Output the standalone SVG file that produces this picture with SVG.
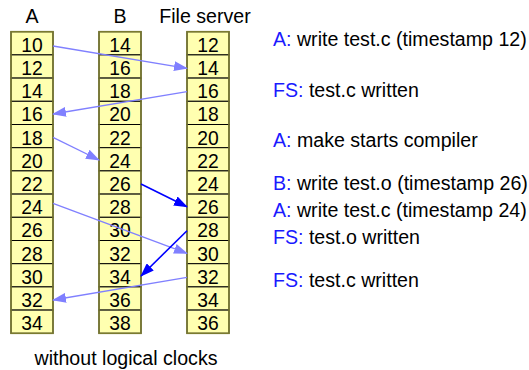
<svg xmlns="http://www.w3.org/2000/svg" width="529" height="370" viewBox="0 0 529 370">
<style>
text{font-family:"Liberation Sans",Arial,sans-serif;font-size:19.6px;fill:#000}
.n{text-anchor:middle;font-size:19.3px}
.h{text-anchor:middle}
.k{fill:#1a1aff}
.cell{fill:#ffffb0;stroke:#000;stroke-width:1}
.col{fill:none;stroke:#7a7a30;stroke-width:1.6}
.lt{stroke:#8080ff;stroke-width:1.3;fill:none}
.dk{stroke:#0000ff;stroke-width:1.6;fill:none}
</style>
<defs>
<marker id="al" markerWidth="14" markerHeight="10" refX="13" refY="5" orient="auto" markerUnits="userSpaceOnUse"><path d="M0,0 L14,5 L0,10 z" fill="#8080ff"/></marker>
<marker id="ad" markerWidth="14" markerHeight="10" refX="13" refY="5" orient="auto" markerUnits="userSpaceOnUse"><path d="M0,0 L14,5 L0,10 z" fill="#0000ff"/></marker>
</defs>
<rect width="529" height="370" fill="#fff"/>
<text class="h" x="32" y="22.7">A</text>
<text class="h" x="120" y="22.7">B</text>
<text class="h" x="205" y="22.7">File server</text>
<g id="colA">
<rect class="cell" x="11" y="31.7" width="42" height="23.2"/><text class="n" x="32" y="51.7">10</text>
<rect class="cell" x="11" y="54.9" width="42" height="23.2"/><text class="n" x="32" y="74.9">12</text>
<rect class="cell" x="11" y="78.1" width="42" height="23.2"/><text class="n" x="32" y="98.1">14</text>
<rect class="cell" x="11" y="101.3" width="42" height="23.2"/><text class="n" x="32" y="121.3">16</text>
<rect class="cell" x="11" y="124.5" width="42" height="23.2"/><text class="n" x="32" y="144.5">18</text>
<rect class="cell" x="11" y="147.7" width="42" height="23.2"/><text class="n" x="32" y="167.7">20</text>
<rect class="cell" x="11" y="170.9" width="42" height="23.2"/><text class="n" x="32" y="190.9">22</text>
<rect class="cell" x="11" y="194.1" width="42" height="23.2"/><text class="n" x="32" y="214.1">24</text>
<rect class="cell" x="11" y="217.3" width="42" height="23.2"/><text class="n" x="32" y="237.3">26</text>
<rect class="cell" x="11" y="240.5" width="42" height="23.2"/><text class="n" x="32" y="260.5">28</text>
<rect class="cell" x="11" y="263.7" width="42" height="23.2"/><text class="n" x="32" y="283.7">30</text>
<rect class="cell" x="11" y="286.9" width="42" height="23.2"/><text class="n" x="32" y="306.9">32</text>
<rect class="cell" x="11" y="310.1" width="42" height="23.2"/><text class="n" x="32" y="330.1">34</text>
<rect class="col" x="11" y="31.7" width="42" height="301.6"/>
</g>
<g id="colB">
<rect class="cell" x="99" y="31.7" width="42" height="23.2"/><text class="n" x="120" y="51.7">14</text>
<rect class="cell" x="99" y="54.9" width="42" height="23.2"/><text class="n" x="120" y="74.9">16</text>
<rect class="cell" x="99" y="78.1" width="42" height="23.2"/><text class="n" x="120" y="98.1">18</text>
<rect class="cell" x="99" y="101.3" width="42" height="23.2"/><text class="n" x="120" y="121.3">20</text>
<rect class="cell" x="99" y="124.5" width="42" height="23.2"/><text class="n" x="120" y="144.5">22</text>
<rect class="cell" x="99" y="147.7" width="42" height="23.2"/><text class="n" x="120" y="167.7">24</text>
<rect class="cell" x="99" y="170.9" width="42" height="23.2"/><text class="n" x="120" y="190.9">26</text>
<rect class="cell" x="99" y="194.1" width="42" height="23.2"/><text class="n" x="120" y="214.1">28</text>
<rect class="cell" x="99" y="217.3" width="42" height="23.2"/><text class="n" x="120" y="237.3">30</text>
<rect class="cell" x="99" y="240.5" width="42" height="23.2"/><text class="n" x="120" y="260.5">32</text>
<rect class="cell" x="99" y="263.7" width="42" height="23.2"/><text class="n" x="120" y="283.7">34</text>
<rect class="cell" x="99" y="286.9" width="42" height="23.2"/><text class="n" x="120" y="306.9">36</text>
<rect class="cell" x="99" y="310.1" width="42" height="23.2"/><text class="n" x="120" y="330.1">38</text>
<rect class="col" x="99" y="31.7" width="42" height="301.6"/>
</g>
<g id="colFS">
<rect class="cell" x="187" y="31.7" width="42" height="23.2"/><text class="n" x="208" y="51.7">12</text>
<rect class="cell" x="187" y="54.9" width="42" height="23.2"/><text class="n" x="208" y="74.9">14</text>
<rect class="cell" x="187" y="78.1" width="42" height="23.2"/><text class="n" x="208" y="98.1">16</text>
<rect class="cell" x="187" y="101.3" width="42" height="23.2"/><text class="n" x="208" y="121.3">18</text>
<rect class="cell" x="187" y="124.5" width="42" height="23.2"/><text class="n" x="208" y="144.5">20</text>
<rect class="cell" x="187" y="147.7" width="42" height="23.2"/><text class="n" x="208" y="167.7">22</text>
<rect class="cell" x="187" y="170.9" width="42" height="23.2"/><text class="n" x="208" y="190.9">24</text>
<rect class="cell" x="187" y="194.1" width="42" height="23.2"/><text class="n" x="208" y="214.1">26</text>
<rect class="cell" x="187" y="217.3" width="42" height="23.2"/><text class="n" x="208" y="237.3">28</text>
<rect class="cell" x="187" y="240.5" width="42" height="23.2"/><text class="n" x="208" y="260.5">30</text>
<rect class="cell" x="187" y="263.7" width="42" height="23.2"/><text class="n" x="208" y="283.7">32</text>
<rect class="cell" x="187" y="286.9" width="42" height="23.2"/><text class="n" x="208" y="306.9">34</text>
<rect class="cell" x="187" y="310.1" width="42" height="23.2"/><text class="n" x="208" y="330.1">36</text>
<rect class="col" x="187" y="31.7" width="42" height="301.6"/>
</g>
<g id="connectors">
<line class="lt" x1="53" y1="46" x2="187" y2="68.3" marker-end="url(#al)"/>
<line class="lt" x1="187" y1="91.7" x2="53" y2="114" marker-end="url(#al)"/>
<line class="lt" x1="53" y1="137.3" x2="99" y2="160" marker-end="url(#al)"/>
<line class="dk" x1="141" y1="184" x2="187" y2="206.7" marker-end="url(#ad)"/>
<line class="lt" x1="53" y1="203.3" x2="187" y2="253.3" marker-end="url(#al)"/>
<line class="dk" x1="187" y1="230.7" x2="141" y2="276" marker-end="url(#ad)"/>
<line class="lt" x1="187" y1="277.3" x2="53" y2="300" marker-end="url(#al)"/>
</g>
<g id="notes">
<text x="273" y="45.7"><tspan class="k">A:</tspan> write test.c (timestamp 12)</text>
<text x="273" y="96.7"><tspan class="k">FS:</tspan> test.c written</text>
<text x="273" y="146.7"><tspan class="k">A:</tspan> make starts compiler</text>
<text x="273" y="190"><tspan class="k">B:</tspan> write test.o (timestamp 26)</text>
<text x="273" y="216.7"><tspan class="k">A:</tspan> write test.c (timestamp 24)</text>
<text x="273" y="244"><tspan class="k">FS:</tspan> test.o written</text>
<text x="273" y="286.7"><tspan class="k">FS:</tspan> test.c written</text>
</g>
<text class="h" x="126" y="365">without logical clocks</text>
</svg>
